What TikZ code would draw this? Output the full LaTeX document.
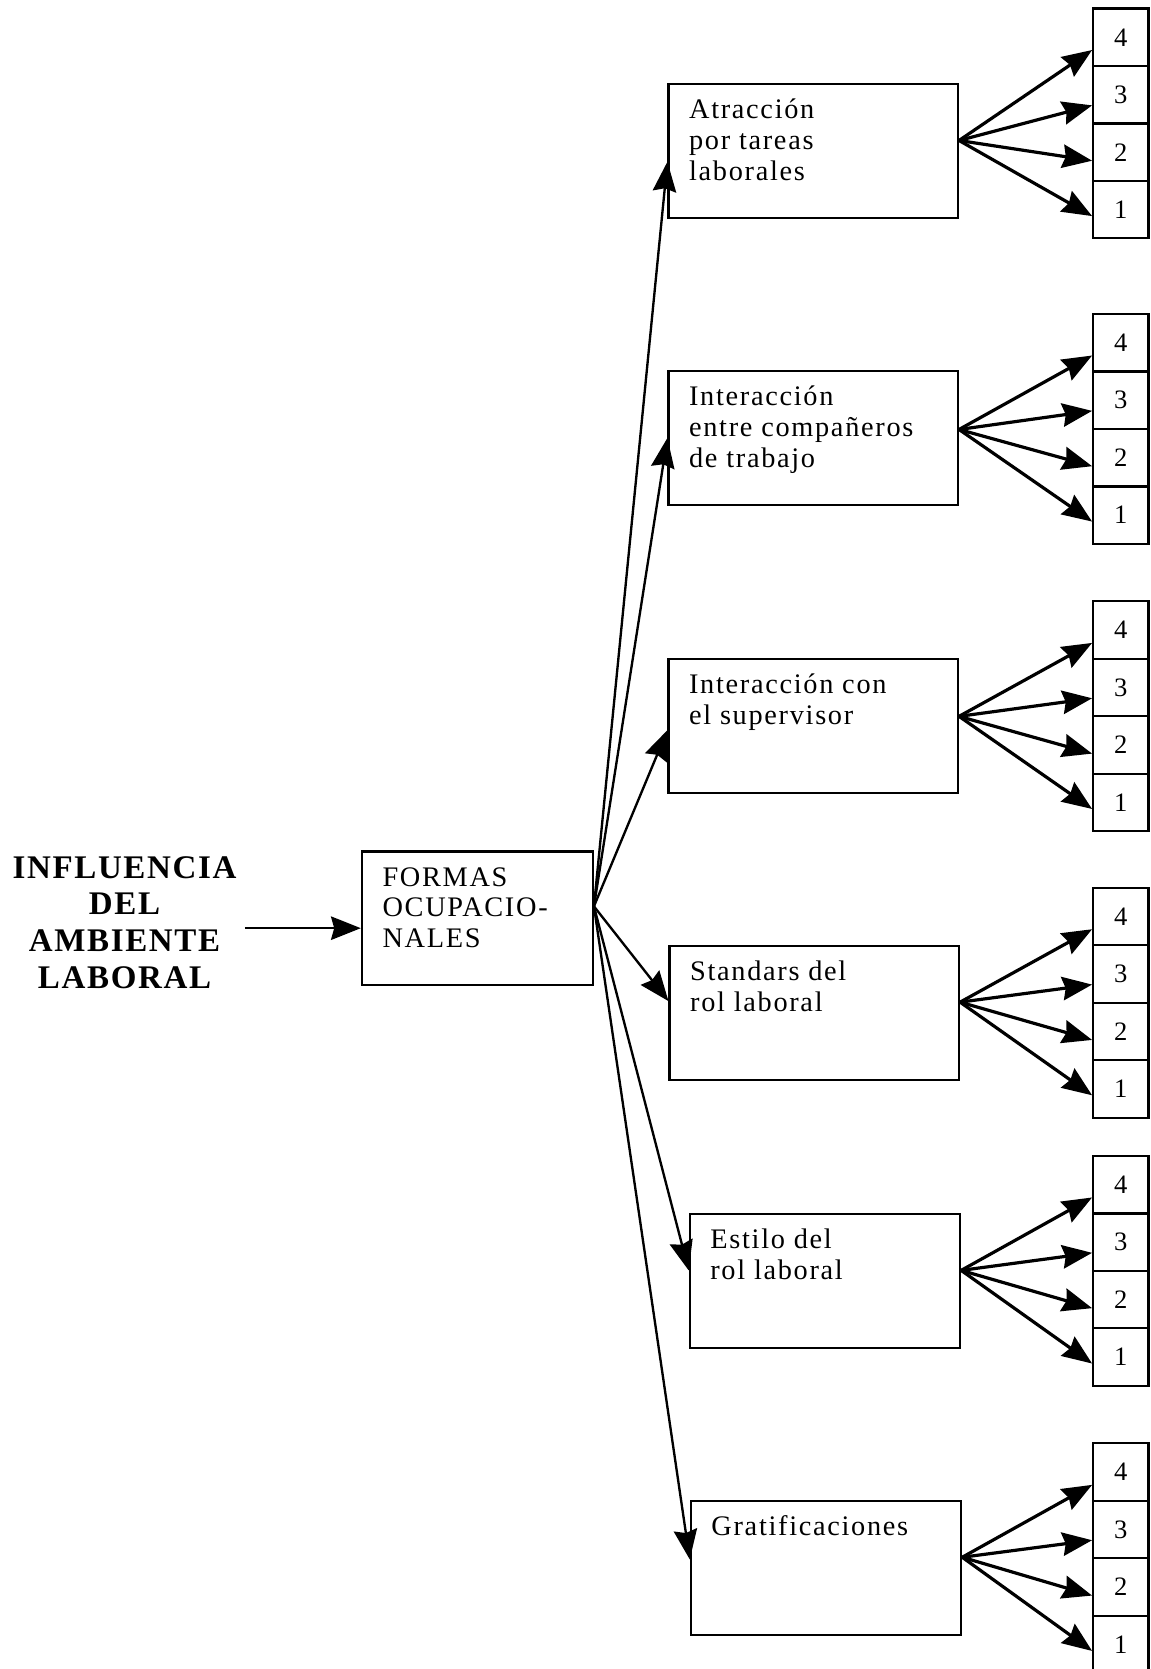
\documentclass[tikz,border=0pt]{standalone}
\usepackage{fontspec}
\setmainfont{Liberation Serif}
\newfontfamily\boxfont{Liberation Serif}[LetterSpace=6]
\newfontfamily\ttlfont{Liberation Serif}[LetterSpace=5]
\usetikzlibrary{arrows.meta}
\newcommand{\boxstrut}{\rule{0pt}{10pt}}

\begin{document}
\begin{tikzpicture}[x=0.5pt, y=-0.5pt,
  ttl/.style={inner sep=0pt, outer xsep=4pt, align=center,
    font=\ttlfont\bfseries\fontsize{15.5}{17.2}\selectfont},
  box/.style={draw, line width=1pt, inner sep=0pt, minimum width=136pt, minimum height=63pt},
  lbl/.style={anchor=north west, inner sep=0pt, align=left,
    font=\boxfont\fontsize{13.3}{14.5}\selectfont},
  cell/.style={draw, line width=1pt, inner sep=0pt, minimum width=26pt,
    minimum height=27pt, font=\fontsize{12.5}{14}\selectfont},
  arr/.style={-{Stealth[length=14pt, width=11pt, inset=1.5pt]}, line width=1.1pt},
  fan/.style={-{Stealth[length=14pt, width=11pt, inset=1.5pt]}, line width=1.5pt}]

\useasboundingbox (0,0) rectangle (1081,1568);

% ---------- Left: title and first box ----------
\node[ttl] (inf) at (117,866.5) {INFLUENCIA\\DEL\\AMBIENTE\\LABORAL};
\node[box, minimum width=108.5pt, minimum height=62.5pt] (fo) at (448.5,862.5) {};
\node[lbl] (fot) at ([xshift=10pt,yshift=-6.5pt]fo.north west) {\boxstrut FORMAS\\OCUPACIO-\\NALES};

\coordinate (in) at ([yshift=-4.75pt]fo.west);
\draw[arr] (in -| inf.east) -- (in);

% ---------- Middle: the six forms ----------
\node[box] (b1) at (764,142) {};
\node[box] (b2) at (764,411.5) {};
\node[box] (b3) at (764,682) {};
\node[box] (b4) at (765,951.5) {};
\node[box, minimum width=127pt] (b5) at (775,1203.5) {};
\node[box, minimum width=127pt] (b6) at (776,1473) {};

\node[lbl] (b1t) at ([xshift=10pt,yshift=-6.5pt]b1.north west) {\boxstrut Atracción\\por tareas\\laborales};
\node[lbl] (b2t) at ([xshift=10pt,yshift=-6.5pt]b2.north west) {\boxstrut Interacción\\entre compañeros\\de trabajo};
\node[lbl] (b3t) at ([xshift=10pt,yshift=-6.5pt]b3.north west) {\boxstrut Interacción con\\el supervisor};
\node[lbl] (b4t) at ([xshift=10pt,yshift=-6.5pt]b4.north west) {\boxstrut Standars del\\rol laboral};
\node[lbl] (b5t) at ([xshift=10pt,yshift=-6.5pt]b5.north west) {\boxstrut Estilo del\\rol laboral};
\node[lbl] (b6t) at ([xshift=10pt,yshift=-6.5pt]b6.north west) {\boxstrut Gratificaciones};

% Arrows out of FORMAS OCUPACIONALES
\draw[arr] ([yshift=5.5pt]fo.east) -- ([yshift=-5pt]b1.west);
\draw[arr] ([yshift=5.5pt]fo.east) -- (b2.west);
\draw[arr] ([yshift=5.5pt]fo.east) -- ([yshift=-2pt]b3.west);
\draw[arr] ([yshift=5.5pt]fo.east) -- ([yshift=5.5pt]b4.west);
\draw[arr] ([yshift=5.5pt]fo.east) -- ([yshift=5pt]b5.west);
\draw[arr] ([yshift=5.5pt]fo.east) -- ([yshift=4pt]b6.west);

% ---------- Right: scales 4 to 1 ----------
\node[cell] (g1n4) at (1053,35) {4};
\node[cell] (g1n3) at (1053,89) {3};
\node[cell] (g1n2) at (1053,143) {2};
\node[cell] (g1n1) at (1053,197) {1};

\node[cell] (g2n4) at (1053,322) {4};
\node[cell] (g2n3) at (1053,376) {3};
\node[cell] (g2n2) at (1053,430) {2};
\node[cell] (g2n1) at (1053,484) {1};

\node[cell] (g3n4) at (1053,592) {4};
\node[cell] (g3n3) at (1053,646) {3};
\node[cell] (g3n2) at (1053,700) {2};
\node[cell] (g3n1) at (1053,754) {1};

\node[cell] (g4n4) at (1053,861) {4};
\node[cell] (g4n3) at (1053,915) {3};
\node[cell] (g4n2) at (1053,969) {2};
\node[cell] (g4n1) at (1053,1023) {1};

\node[cell] (g5n4) at (1053,1113) {4};
\node[cell] (g5n3) at (1053,1167) {3};
\node[cell] (g5n2) at (1053,1221) {2};
\node[cell] (g5n1) at (1053,1275) {1};

\node[cell] (g6n4) at (1053,1383) {4};
\node[cell] (g6n3) at (1053,1437) {3};
\node[cell] (g6n2) at (1053,1491) {2};
\node[cell] (g6n1) at (1053,1545) {1};

% Fans from each form to its scale
\draw[fan] ([yshift=5pt]b1.east) -- ([yshift=-6pt]g1n4.west);
\draw[fan] ([yshift=5pt]b1.east) -- ([yshift=-5pt]g1n3.west);
\draw[fan] ([yshift=5pt]b1.east) -- ([yshift=-4pt]g1n2.west);
\draw[fan] ([yshift=5pt]b1.east) -- ([yshift=-3pt]g1n1.west);

\draw[fan] ([yshift=4pt]b2.east) -- ([yshift=-6pt]g2n4.west);
\draw[fan] ([yshift=4pt]b2.east) -- ([yshift=-5pt]g2n3.west);
\draw[fan] ([yshift=4pt]b2.east) -- ([yshift=-4pt]g2n2.west);
\draw[fan] ([yshift=4pt]b2.east) -- ([yshift=-3pt]g2n1.west);

\draw[fan] ([yshift=4.5pt]b3.east) -- ([yshift=-6pt]g3n4.west);
\draw[fan] ([yshift=4.5pt]b3.east) -- ([yshift=-5pt]g3n3.west);
\draw[fan] ([yshift=4.5pt]b3.east) -- ([yshift=-4pt]g3n2.west);
\draw[fan] ([yshift=4.5pt]b3.east) -- ([yshift=-3pt]g3n1.west);

\draw[fan] ([yshift=5pt]b4.east) -- ([yshift=-6pt]g4n4.west);
\draw[fan] ([yshift=5pt]b4.east) -- ([yshift=-5pt]g4n3.west);
\draw[fan] ([yshift=5pt]b4.east) -- ([yshift=-4pt]g4n2.west);
\draw[fan] ([yshift=5pt]b4.east) -- ([yshift=-3pt]g4n1.west);

\draw[fan] ([yshift=5pt]b5.east) -- ([yshift=-6pt]g5n4.west);
\draw[fan] ([yshift=5pt]b5.east) -- ([yshift=-5pt]g5n3.west);
\draw[fan] ([yshift=5pt]b5.east) -- ([yshift=-4pt]g5n2.west);
\draw[fan] ([yshift=5pt]b5.east) -- ([yshift=-3pt]g5n1.west);

\draw[fan] ([yshift=5pt]b6.east) -- ([yshift=-6pt]g6n4.west);
\draw[fan] ([yshift=5pt]b6.east) -- ([yshift=-5pt]g6n3.west);
\draw[fan] ([yshift=5pt]b6.east) -- ([yshift=-4pt]g6n2.west);
\draw[fan] ([yshift=5pt]b6.east) -- ([yshift=-3pt]g6n1.west);

\end{tikzpicture}
\end{document}
